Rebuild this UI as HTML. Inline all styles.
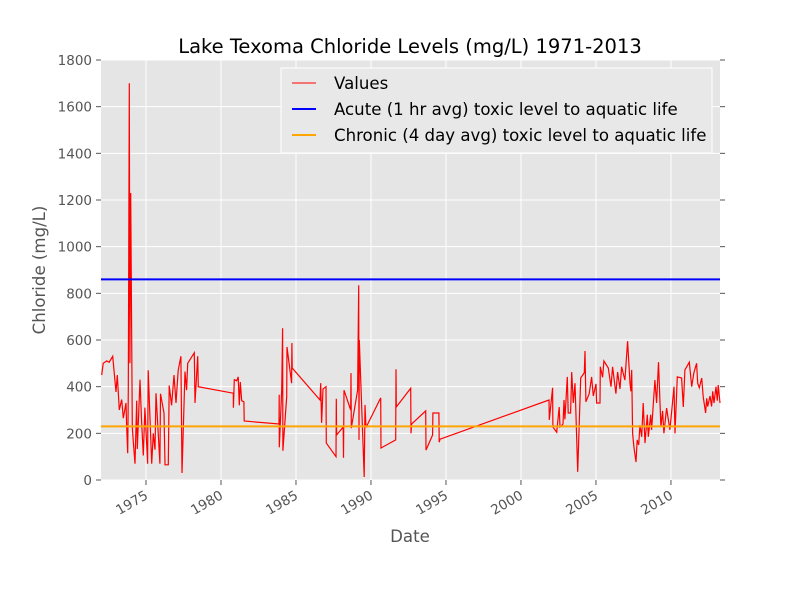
<!DOCTYPE html>
<html><head><meta charset="utf-8"><style>
body{margin:0;background:#fff;}
svg{font-family:"DejaVu Sans","Liberation Sans",sans-serif;}
</style></head><body>
<svg id="chart" width="800" height="600" xmlns="http://www.w3.org/2000/svg">
<rect width="800" height="600" fill="#fff"/>
<text x="410" y="53" text-anchor="middle" font-size="19.5" fill="#000">Lake Texoma Chloride Levels (mg/L) 1971-2013</text>
<rect x="101" y="60" width="619" height="420" fill="#e5e5e5"/>
<g id="grid"></g>
<g id="ticks"></g>
<g id="series"></g>
<g>
<rect x="281" y="68" width="431" height="85" fill="#e8e8e8" stroke="#fff" stroke-width="1"/>
<line x1="292" y1="83" x2="316" y2="83" stroke="#f00" stroke-width="1"/>
<text x="334" y="89" font-size="16.6">Values</text>
<line x1="292" y1="109" x2="316" y2="109" stroke="#00f" stroke-width="2"/>
<text x="334" y="115" font-size="16.6">Acute (1 hr avg) toxic level to aquatic life</text>
<line x1="292" y1="135" x2="316" y2="135" stroke="#ffa500" stroke-width="2"/>
<text x="334" y="141" font-size="16.6">Chronic (4 day avg) toxic level to aquatic life</text>
</g>
<text x="410" y="542" text-anchor="middle" font-size="16.6" fill="#555">Date</text>
<text transform="translate(45,270) rotate(-90)" text-anchor="middle" font-size="16.6" fill="#555">Chloride (mg/L)</text>
</svg>
<script>
const years=[1972.05,1972.15,1972.38,1972.55,1972.78,1973.0,1973.09,1973.22,1973.38,1973.49,1973.67,1973.71,1973.78,1973.82,1973.89,1973.93,1973.98,1974.09,1974.15,1974.27,1974.38,1974.42,1974.6,1974.71,1974.82,1974.93,1975.11,1975.15,1975.38,1975.49,1975.6,1975.67,1975.93,1975.97,1976.2,1976.27,1976.49,1976.55,1976.71,1976.87,1977.0,1977.15,1977.33,1977.4,1977.6,1977.71,1977.78,1978.22,1978.27,1978.45,1978.49,1980.82,1980.83,1980.89,1981.05,1981.15,1981.22,1981.29,1981.38,1981.53,1981.55,1983.87,1983.88,1983.89,1984.05,1984.11,1984.13,1984.38,1984.4,1984.71,1984.73,1984.75,1986.6,1986.65,1986.71,1986.8,1987.0,1987.02,1987.67,1987.69,1987.71,1988.15,1988.17,1988.2,1988.65,1988.67,1988.69,1989.11,1989.18,1989.2,1989.22,1989.55,1989.6,1989.67,1990.65,1990.67,1991.65,1991.67,1991.69,1992.65,1992.67,1992.71,1993.65,1993.67,1994.11,1994.13,1994.53,1994.55,1994.6,2001.87,2001.89,2002.11,2002.13,2002.38,2002.55,2002.6,2002.8,2002.87,2002.93,2003.09,2003.15,2003.31,2003.38,2003.49,2003.6,2003.78,2003.98,2004.22,2004.27,2004.33,2004.55,2004.71,2004.82,2005.0,2005.04,2005.27,2005.29,2005.44,2005.53,2005.82,2006.0,2006.11,2006.33,2006.44,2006.6,2006.71,2006.93,2007.11,2007.27,2007.33,2007.38,2007.44,2007.53,2007.67,2007.75,2007.85,2007.93,2008.05,2008.15,2008.27,2008.42,2008.49,2008.65,2008.71,2008.93,2009.04,2009.17,2009.33,2009.44,2009.53,2009.71,2009.93,2010.2,2010.27,2010.42,2010.71,2010.82,2010.93,2011.22,2011.38,2011.53,2011.71,2011.78,2011.89,2012.05,2012.15,2012.31,2012.38,2012.45,2012.6,2012.71,2012.78,2012.87,2013.0,2013.09,2013.15,2013.27];
const values=[450,500,510,505,530,377,450,300,345,265,330,235,115,385,1700,500,1230,226,170,70,340,133,430,250,105,310,70,470,70,200,130,372,70,370,287,65,65,405,320,450,330,470,530,30,465,385,500,545,330,530,400,372,310,430,425,442,320,420,340,335,253,240,365,140,385,650,125,357,570,415,587,480,343,415,245,390,400,158,100,348,193,227,95,385,300,458,222,385,835,172,600,13,322,225,352,137,172,475,313,393,200,240,296,128,193,287,287,162,175,343,257,395,227,205,313,227,240,343,260,442,287,287,463,330,415,35,437,460,553,335,370,442,360,412,330,330,485,440,510,480,400,485,370,463,390,485,428,595,415,380,472,200,142,77,172,150,235,185,330,158,280,185,280,215,428,330,505,227,296,200,308,215,400,200,442,437,313,472,505,400,460,500,415,395,437,357,287,350,315,360,315,380,330,400,340,407,330];
const acuteLevel=[860];
const chronicLevel=[230];
const yTicks=[0,200,400,600,800,1000,1200,1400,1600,1800];
const xTicks=[1975,1980,1985,1990,1995,2000,2005,2010];

const NS="http://www.w3.org/2000/svg";
const X0=101,X1=720,Y0=480,Y1=60,XMIN=1972.0,XMAX=2013.27,YMIN=0,YMAX=1800;
function xs(v){return X0+(v-XMIN)/(XMAX-XMIN)*(X1-X0);}
function ys(v){return Y0-(v-YMIN)/(YMAX-YMIN)*(Y0-Y1);}
function mk(tag,attrs,parent){const e=document.createElementNS(NS,tag);for(const k in attrs)e.setAttribute(k,attrs[k]);parent.appendChild(e);return e;}
const grid=document.getElementById('grid'),ticks=document.getElementById('ticks'),series=document.getElementById('series');
yTicks.forEach(t=>{
  const y=ys(t);
  const g=mk('line',{x1:X0,x2:X1,y1:y,y2:y,stroke:'#fff','stroke-width':1},grid);
  
  
  mk('line',{x1:X0-5,x2:X0,y1:y,y2:y,stroke:'#555'},ticks);
  mk('line',{x1:X1,x2:X1+5,y1:y,y2:y,stroke:'#555'},ticks);
  const tx=mk('text',{x:X0-9,y:y+5,'text-anchor':'end','font-size':13.5,fill:'#555'},ticks);
  tx.textContent=t;
  
  
});
xTicks.forEach(t=>{
  const x=xs(t);
  const g=mk('line',{x1:x,x2:x,y1:Y1,y2:Y0,stroke:'#fff','stroke-width':1},grid);
  
  
  mk('line',{x1:x,x2:x,y1:Y0,y2:Y0+5,stroke:'#555'},ticks);
  const tx=mk('text',{x:x+3,y:Y0+18,'text-anchor':'end','font-size':13.5,fill:'#555',transform:`rotate(-30 ${x+3} ${Y0+18})`},ticks);
  tx.textContent=t;
  
  
});
const pts=years.map((yr,i)=>xs(yr).toFixed(1)+','+ys(values[i]).toFixed(1)).join(' ');
const pl=mk('polyline',{points:pts,fill:'none',stroke:'#f00','stroke-width':1.2,'stroke-linejoin':'miter'},series);


const a=mk('line',{x1:X0,x2:X1,y1:ys(acuteLevel[0]),y2:ys(acuteLevel[0]),stroke:'#00f','stroke-width':2},series);


const c=mk('line',{x1:X0,x2:X1,y1:ys(chronicLevel[0]),y2:ys(chronicLevel[0]),stroke:'#ffa500','stroke-width':2},series);


</script>
</body></html>
